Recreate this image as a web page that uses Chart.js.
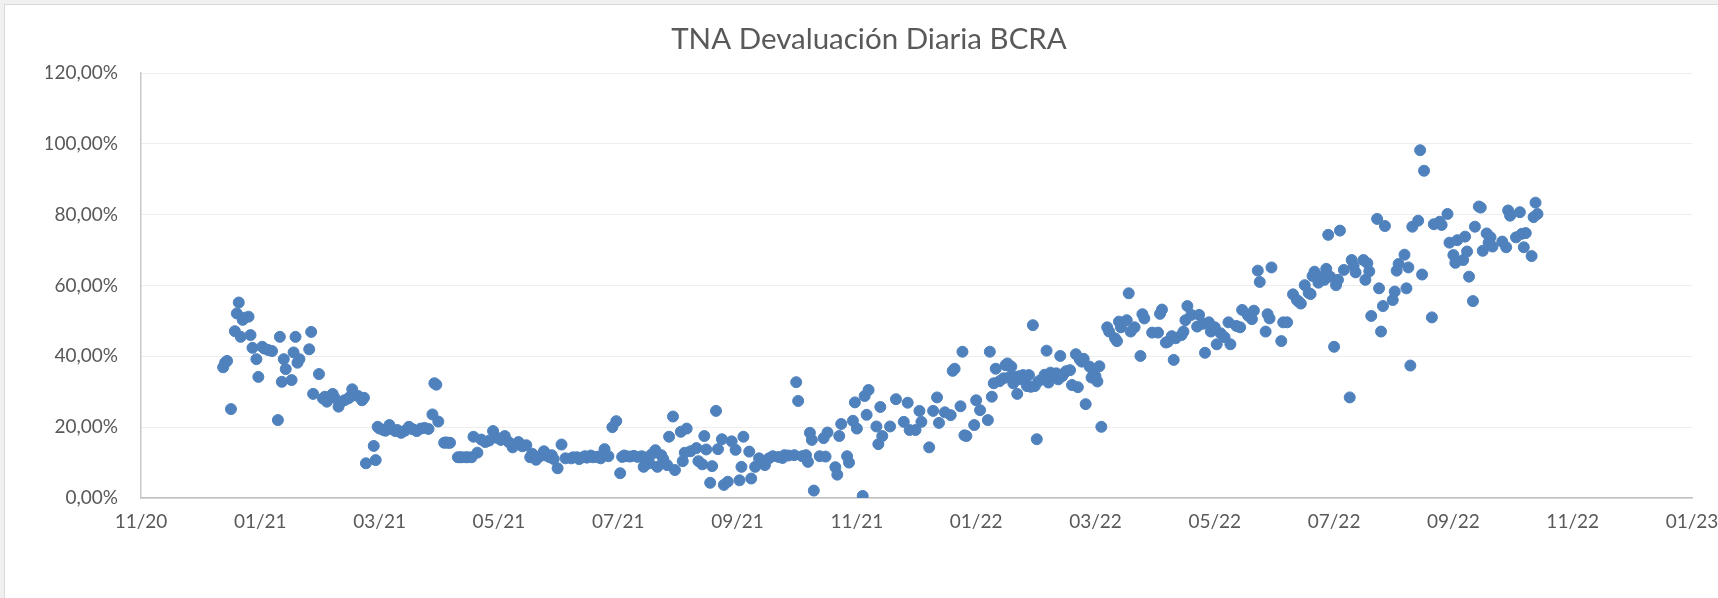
<!DOCTYPE html>
<html>
<head>
<meta charset="utf-8">
<title>TNA Devaluación Diaria BCRA</title>
<script src="https://cdn.jsdelivr.net/npm/chart.js@4.4.1/dist/chart.umd.min.js"></script>
<style>
    html, body { margin: 0; padding: 0; width: 1718px; height: 598px; overflow: hidden; background: #f0f0f0; }
    #marco { position: absolute; left: 4px; top: 4px; width: 1728px; height: 600px; background: #fff; border: 1px solid #d9d9d9; }
    canvas { display: block; }
</style>
</head>
<body>
<div id="marco"><canvas id="grafico" width="1728" height="600"></canvas></div>
<script>
//Fechas como número de serie de Excel (1 = 01/01/1900)
var fechas = [
    44178, 44179, 44180, 44182, 44184, 44185, 44186, 44187, 44188, 44189,
    44191, 44192, 44193, 44195, 44196, 44198, 44199, 44201, 44203, 44206,
    44207, 44208, 44209, 44210, 44213, 44214, 44215, 44216, 44217, 44222,
    44223, 44224, 44227, 44229, 44230, 44231, 44234, 44235, 44237, 44238,
    44240, 44242, 44243, 44244, 44245, 44247, 44249, 44250, 44251, 44255,
    44256, 44257, 44258, 44260, 44261, 44263, 44264, 44266, 44267, 44269,
    44271, 44273, 44275, 44277, 44279, 44281, 44283, 44285, 44286, 44287,
    44288, 44291, 44292, 44293, 44294, 44298, 44299, 44300, 44302, 44303,
    44305, 44306, 44308, 44310, 44312, 44314, 44316, 44318, 44320, 44322,
    44324, 44326, 44327, 44329, 44331, 44333, 44335, 44336, 44338, 44340,
    44342, 44343, 44345, 44346, 44347, 44349, 44351, 44353, 44356, 44357,
    44359, 44360, 44362, 44363, 44364, 44366, 44367, 44369, 44370, 44371,
    44373, 44375, 44377, 44379, 44381, 44382, 44383, 44384, 44386, 44388,
    44390, 44392, 44393, 44394, 44396, 44397, 44399, 44400, 44402, 44403,
    44405, 44406, 44408, 44409, 44412, 44413, 44414, 44415, 44417, 44420,
    44421, 44423, 44424, 44425, 44427, 44428, 44430, 44431, 44433, 44434,
    44436, 44438, 44440, 44442, 44443, 44444, 44447, 44448, 44450, 44452,
    44455, 44457, 44459, 44462, 44464, 44465, 44467, 44470, 44471, 44472,
    44474, 44476, 44477, 44478, 44479, 44480, 44483, 44485, 44486, 44487,
    44491, 44492, 44493, 44494, 44497, 44498, 44500, 44501, 44502, 44505,
    44506, 44507, 44508, 44512, 44513, 44514, 44515, 44519, 44522, 44526,
    44528, 44529, 44532, 44534, 44535, 44539, 44541, 44543, 44544, 44547,
    44550, 44551, 44552, 44555, 44556, 44557, 44558, 44562, 44563, 44565,
    44569, 44570, 44571, 44572, 44573, 44575, 44577, 44578, 44579, 44580,
    44581, 44582, 44583, 44584, 44585, 44586, 44587, 44589, 44590, 44591,
    44592, 44593, 44594, 44595, 44597, 44598, 44599, 44600, 44601, 44602,
    44603, 44604, 44605, 44606, 44607, 44608, 44609, 44611, 44612, 44614,
    44615, 44616, 44617, 44618, 44619, 44621, 44622, 44623, 44624, 44625,
    44626, 44627, 44630, 44631, 44634, 44635, 44636, 44637, 44640, 44641,
    44642, 44644, 44647, 44648, 44649, 44653, 44656, 44657, 44658, 44660,
    44661, 44663, 44664, 44665, 44668, 44669, 44670, 44671, 44673, 44676,
    44677, 44679, 44680, 44682, 44683, 44685, 44686, 44688, 44690, 44692,
    44693, 44696, 44698, 44699, 44702, 44704, 44705, 44707, 44708, 44711,
    44712, 44713, 44714, 44719, 44720, 44722, 44725, 44727, 44728, 44729,
    44731, 44733, 44734, 44735, 44736, 44738, 44739, 44741, 44742, 44743,
    44744, 44746, 44747, 44748, 44749, 44751, 44754, 44755, 44756, 44757,
    44761, 44762, 44763, 44764, 44765, 44768, 44769, 44770, 44771, 44772,
    44776, 44777, 44778, 44779, 44782, 44783, 44784, 44785, 44786, 44789,
    44790, 44791, 44792, 44796, 44797, 44800, 44801, 44804, 44805, 44807,
    44808, 44809, 44812, 44813, 44814, 44815, 44817, 44818, 44820, 44821,
    44822, 44824, 44825, 44826, 44827, 44832, 44834, 44835, 44836, 44839,
    44841, 44842, 44843, 44844, 44847, 44848, 44849, 44850
];
//TNA de devaluación diaria en %
var tna = [
    36.9, 38.2, 38.7, 25.1, 47.1, 52.1, 55.2, 45.5, 50.3, 50.9,
    51.2, 46.0, 42.4, 39.2, 34.2, 42.7, 42.2, 41.8, 41.5, 22.0,
    45.5, 32.8, 39.2, 36.4, 33.3, 41.1, 45.5, 38.2, 39.2, 42.0,
    46.9, 29.4, 35.0, 28.1, 28.6, 27.2, 29.4, 28.3, 25.8, 27.0,
    27.6, 28.1, 28.6, 30.7, 29.1, 28.8, 27.6, 28.3, 9.8, 14.7,
    10.7, 20.1, 19.6, 19.2, 19.0, 20.6, 19.5, 18.9, 19.2, 18.4,
    19.0, 20.1, 19.4, 18.9, 19.6, 19.8, 19.5, 23.6, 32.4, 32.0,
    21.6, 15.6, 15.7, 15.6, 15.6, 11.5, 11.5, 11.5, 11.5, 11.5,
    11.5, 17.3, 12.8, 16.5, 15.8, 16.2, 18.9, 17.0, 16.4, 17.5,
    15.8, 14.3, 15.0, 15.8, 14.6, 14.9, 11.5, 12.5, 10.8, 11.8,
    13.2, 12.0, 11.5, 12.1, 11.0, 8.4, 15.1, 11.2, 11.2, 11.5,
    11.5, 11.0, 11.5, 11.8, 11.4, 12.0, 11.5, 11.6, 11.7, 11.2,
    13.8, 11.8, 20.0, 21.7, 7.0, 11.6, 12.0, 11.8, 11.7, 11.9,
    11.6, 11.8, 8.8, 11.4, 9.8, 12.3, 13.5, 8.8, 12.1, 11.0,
    9.3, 17.3, 23.0, 7.9, 18.7, 10.4, 12.8, 19.6, 13.2, 14.1,
    10.4, 9.5, 17.5, 13.7, 4.3, 9.0, 24.6, 13.8, 16.6, 3.7,
    4.6, 16.0, 13.6, 5.0, 8.8, 17.3, 13.1, 5.5, 8.8, 11.2,
    9.3, 11.2, 11.8, 11.6, 11.3, 12.1, 12.0, 12.1, 32.7, 27.4,
    11.8, 12.1, 10.2, 18.4, 16.4, 2.1, 11.8, 16.9, 11.7, 18.5,
    8.7, 6.6, 17.5, 20.9, 11.8, 10.0, 21.8, 27.0, 19.6, 0.6,
    28.8, 23.5, 30.5, 20.2, 15.2, 25.7, 17.5, 20.2, 27.9, 21.5,
    26.9, 19.2, 19.2, 24.6, 21.5, 14.3, 24.6, 28.4, 21.2, 24.2,
    23.4, 35.9, 36.5, 25.9, 41.3, 17.7, 17.5, 20.6, 27.6, 24.8,
    22.0, 41.3, 28.6, 32.4, 36.5, 33.0, 33.8, 37.5, 38.0, 34.2,
    37.1, 32.4, 34.2, 29.4, 34.4, 33.5, 34.7, 31.6, 34.7, 31.4,
    48.8, 31.6, 16.6, 33.0, 33.7, 34.8, 41.6, 32.6, 35.4, 34.2,
    34.8, 35.2, 33.5, 40.1, 34.4, 35.2, 35.8, 36.1, 31.9, 40.6,
    31.3, 39.1, 38.5, 39.3, 26.5, 37.1, 34.0, 35.0, 34.4, 32.9,
    37.2, 20.1, 48.2, 47.0, 45.1, 44.3, 49.8, 48.2, 50.2, 57.8,
    47.0, 48.2, 40.1, 51.9, 50.7, 46.7, 46.7, 52.0, 53.2, 43.9,
    44.1, 45.7, 39.0, 45.1, 46.0, 47.0, 50.2, 54.2, 51.7, 48.4,
    51.7, 49.2, 41.0, 49.6, 47.0, 48.2, 43.4, 46.5, 45.4, 49.6,
    43.4, 48.6, 48.2, 53.1, 51.5, 50.5, 52.9, 64.2, 61.0, 47.0,
    51.9, 50.7, 65.1, 44.3, 49.6, 49.6, 57.5, 55.9, 55.4, 54.9,
    60.1, 57.9, 57.6, 62.7, 63.9, 60.8, 62.5, 61.6, 64.7, 74.3,
    62.5, 42.7, 60.1, 61.6, 75.5, 64.4, 28.4, 67.2, 65.6, 63.7,
    67.2, 61.6, 66.3, 64.0, 51.4, 78.8, 59.2, 47.0, 54.2, 76.8,
    55.9, 58.3, 64.2, 66.1, 68.7, 59.2, 65.1, 37.4, 76.6, 78.3,
    98.2, 63.1, 92.4, 51.0, 77.3, 78.0, 77.1, 80.2, 72.1, 68.6,
    66.4, 72.8, 67.2, 73.8, 69.6, 62.5, 55.6, 76.6, 82.3, 82.0,
    69.8, 74.7, 72.1, 73.6, 71.0, 72.4, 70.8, 81.2, 79.7, 73.6,
    80.7, 74.6, 70.8, 74.8, 68.3, 79.3, 83.4, 80.2
];
//Eje X: 11/20 a 01/23, cada 61 días
var ejeXMin = 44136;
var ejeXMax = 44929;
var ejeXPaso = 61;
//Eje Y: 0% a 120%
var ejeYMax = 120;
var ejeYPaso = 20;

var gris = "#595959";
var fuente = "Lato, 'Open Sans', sans-serif";

//Puntos armar
var puntos = [];
for (var i = 0; i < fechas.length; i++) {
    puntos.push({ x: fechas[i], y: tna[i] });
}

//Serie de Excel -> mm/yy
function mesAnio(serie) {
    var d = new Date(Date.UTC(1899, 11, 30) + Math.round(serie) * 86400000);
    var mm = ("0" + (d.getUTCMonth() + 1)).slice(-2);
    var yy = ("0" + (d.getUTCFullYear() % 100)).slice(-2);
    return mm + "/" + yy;
}

var canvas = document.getElementById("grafico");
var myChart = new Chart(canvas, {
    type: "scatter",
    data: {
        datasets: [{
            label: "TNA",
            data: puntos,
            backgroundColor: "#4f81bd",
            borderColor: "#4f81bd",
            borderWidth: 1,
            pointRadius: 5.5,
            pointHoverRadius: 5.5
        }]
    },
    options: {
        responsive: false,
        maintainAspectRatio: false,
        animation: false,
        devicePixelRatio: 1,
        layout: {
            padding: { left: 41, right: 41, top: 0, bottom: 0 }
        },
        plugins: {
            legend: { display: false },
            tooltip: { enabled: false },
            title: {
                display: true,
                text: "TNA Devaluación Diaria BCRA",
                color: gris,
                font: { family: fuente, size: 29.5, weight: "normal" },
                padding: { top: 17, bottom: 15.6 }
            }
        },
        scales: {
            x: {
                type: "linear",
                min: ejeXMin,
                max: ejeXMax,
                afterFit: function (scale) { scale.height = 107; },
                grid: { display: false, drawTicks: false },
                border: { display: true, color: "#bfbfbf", width: 1.5 },
                ticks: {
                    stepSize: ejeXPaso,
                    autoSkip: false,
                    maxRotation: 0,
                    padding: 12,
                    color: gris,
                    font: { family: fuente, size: 19 },
                    callback: function (value) { return mesAnio(value); }
                }
            },
            y: {
                min: 0,
                max: ejeYMax,
                afterFit: function (scale) { scale.width = 95; },
                grid: { color: "#eeeeee", lineWidth: 1, drawTicks: false },
                border: { display: true, color: "#c8c8c8", width: 1.5 },
                ticks: {
                    stepSize: ejeYPaso,
                    padding: 23,
                    color: gris,
                    font: { family: fuente, size: 19 },
                    callback: function (value) { return value.toFixed(2).replace(".", ",") + "%"; }
                }
            }
        }
    }
});
</script>
</body>
</html>
